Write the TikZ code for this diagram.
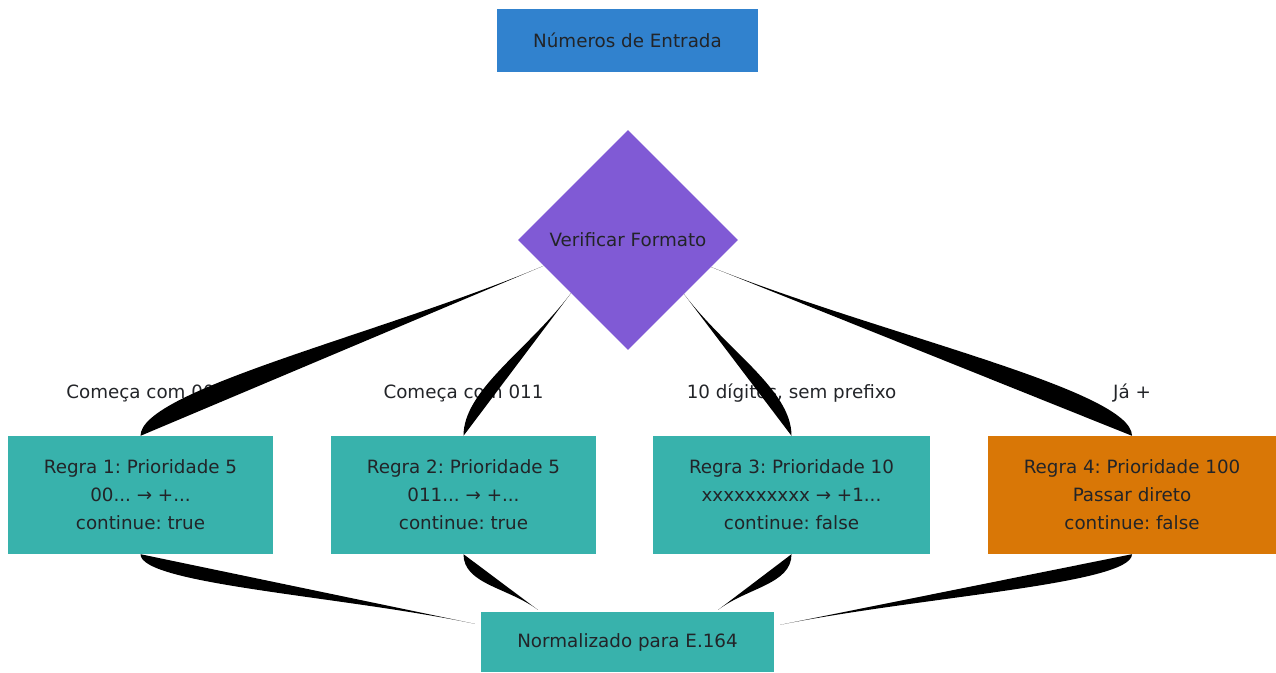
\documentclass[tikz,border=0pt]{standalone}
\usepackage{fontspec}
\setmainfont{DejaVu Sans}
\frenchspacing
\usetikzlibrary{calc,shapes.geometric}
\definecolor{entryblue}{HTML}{3182CE}
\definecolor{checkpurple}{HTML}{805AD5}
\definecolor{ruleteal}{HTML}{38B2AC}
\definecolor{ruleorange}{HTML}{D97706}
\definecolor{inktext}{HTML}{222428}
\tikzset{
	box/.style={rectangle, inner sep=0pt, text=inktext, align=center, font=\fontsize{18.3}{28}\selectfont},
	entrybox/.style={box, fill=entryblue, minimum width=261pt, minimum height=63pt},
	checkbox/.style={box, shape=diamond, aspect=1, fill=checkpurple, minimum width=220pt, minimum height=220pt},
	rulebox/.style={box, fill=ruleteal, minimum height=118pt},
	edgelabel/.style={inner sep=0pt, text=inktext, font=\fontsize{18.3}{22}\selectfont}
}
% filled swoosh from a box anchor to a point
\def\swoosh(#1)(#2)(#3){\fill[black] (#1) .. controls ($(#1)+(0,#3)$) and ($(#1)!0.6!(#2)$) .. (#2) -- cycle;}

\begin{document}
\begin{tikzpicture}[x=1pt, y=-1pt]
	%%%%% START %%%%%
	\useasboundingbox (0,0) rectangle (1276,672);
	
	\node[entrybox] (entry) at (627.5, 40.5) {Números de Entrada};
	\node[checkbox] (chk) at (628, 240) {Verificar Formato};
	
	\node[rulebox, minimum width=265pt] (r1) at (140.5, 495) {Regra 1: Prioridade 5\\00... → +...\\continue: true};
	\node[rulebox, minimum width=265pt] (r2) at (463.5, 495) {Regra 2: Prioridade 5\\011... → +...\\continue: true};
	\node[rulebox, minimum width=277pt] (r3) at (791.5, 495) {Regra 3: Prioridade 10\\xxxxxxxxxx → +1...\\continue: false};
	\node[rulebox, minimum width=288pt, fill=ruleorange] (r4) at (1132, 495) {Regra 4: Prioridade 100\\Passar direto\\continue: false};
	
	\node[rulebox, minimum width=293pt, minimum height=60pt] (norm) at (627.5, 642) {Normalizado para E.164};
	
	\node[edgelabel] (lbl1) at (140.5, 393) {Começa com 00};
	\node[edgelabel] (lbl2) at (463.5, 393) {Começa com 011};
	\node[edgelabel] (lbl3) at (791.5, 393) {10 dígitos, sem prefixo};
	\node[edgelabel] (lbl4) at (1132, 393) {Já +};
	
	\coordinate (n1) at ($(norm.north west)+(-6,12)$);
	\coordinate (n2) at ($(norm.north west)+(57,-2)$);
	\coordinate (n3) at ($(norm.north east)+(-56,-2)$);
	\coordinate (n4) at ($(norm.north east)+(6,13)$);
	
	\swoosh(r1.north)(chk.197)(-46)
	\swoosh(r2.north)(chk.223.5)(-46)
	\swoosh(r3.north)(chk.316.5)(-46)
	\swoosh(r4.north)(chk.342.8)(-46)
	
	\swoosh(r1.south)(n1)(30)
	\swoosh(r2.south)(n2)(30)
	\swoosh(r3.south)(n3)(30)
	\swoosh(r4.south)(n4)(30)
	
	%%%%% END %%%%%
\end{tikzpicture}
\end{document}
